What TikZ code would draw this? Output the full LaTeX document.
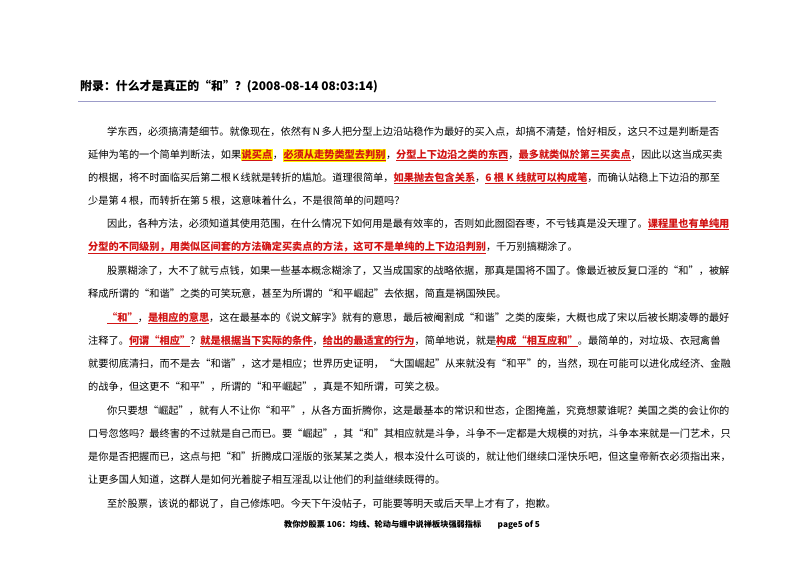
\documentclass[tikz,border=0pt]{standalone}
\usepackage{fontspec}
\setmainfont{Noto Sans CJK SC}
\usepackage{xcolor}
\XeTeXlinebreaklocale "zh"
\XeTeXlinebreakskip=0pt plus 3pt minus 0.6pt
\definecolor{hred}{RGB}{210,20,20}
\definecolor{hyel}{RGB}{255,240,0}
\newcommand{\hr}[1]{\textcolor{hred}{\textbf{\underline{#1}}}}
\newcommand{\hy}[1]{{\setlength{\fboxsep}{0.5pt}\colorbox{hyel}{\hr{#1}}}}
\newcommand{\fa}[1]{\hbox to 603pt{#1}}
\newcommand{\fb}[1]{\hbox to 622pt{#1}}
\tikzset{ln/.style={anchor=base west,inner sep=0,font=\fontsize{10.2}{12}\selectfont},
 ttl/.style={anchor=base west,inner sep=0,font=\fontsize{11.9}{14}\selectfont\bfseries},
 ft/.style={anchor=base,inner sep=0,font=\fontsize{8.2}{10}\selectfont\bfseries}}
\begin{document}
\begin{tikzpicture}[x=1pt,y=-1pt]
\useasboundingbox (0,0) rectangle (800,566);
\fill[white] (0,0) rectangle (800,566);
\node[ttl] (t) at (80,90) {附录：什么才是真正的“和”？(2008-08-14 08:03:14)};
\coordinate (r1) at (78,101); \coordinate (r2) at (716,101);
\draw[color=gray!70!blue!60,line width=0.8pt] (r1) -- (r2);
\node[ln] (a1) at (107,135) {\fa{学东西，必须搞清楚细节。就像现在，依然有 N 多人把分型上边沿站稳作为最好的买入点，却搞不清楚，恰好相反，这只不过是判断是否}};
\node[ln] (a2) at (88,158) {\fb{延伸为笔的一个简单判断法，如果\hy{说买点}，\hy{必须从走势类型去判别}，\hr{分型上下边沿之类的东西}，\hr{最多就类似於第三买卖点}，因此以这当成买卖}};
\node[ln] (a3) at (88,181) {\fb{的根据，将不时面临买后第二根 K 线就是转折的尴尬。道理很简单，\hr{如果抛去包含关系}，\hr{6 根 K 线就可以构成笔}，而确认站稳上下边沿的那至}};
\node[ln] (a4) at (88,204) {少是第 4 根，而转折在第 5 根，这意味着什么，不是很简单的问题吗？};
\node[ln] (b1) at (107,227) {\fa{因此，各种方法，必须知道其使用范围，在什么情况下如何用是最有效率的，否则如此囫囵吞枣，不亏钱真是没天理了。\hr{课程里也有单纯用}}};
\node[ln] (b2) at (88,250) {\hr{分型的不同级别，用类似区间套的方法确定买卖点的方法，这可不是单纯的上下边沿判别}，千万别搞糊涂了。};
\node[ln] (c1) at (107,274) {\fa{股票糊涂了，大不了就亏点钱，如果一些基本概念糊涂了，又当成国家的战略依据，那真是国将不国了。像最近被反复口淫的“和”，被解}};
\node[ln] (c2) at (88,297) {释成所谓的“和谐”之类的可笑玩意，甚至为所谓的“和平崛起”去依据，简直是祸国殃民。};
\node[ln] (d1) at (107,321) {\fa{\hr{“和”}，\hr{是相应的意思}，这在最基本的《说文解字》就有的意思，最后被阉割成“和谐”之类的废柴，大概也成了宋以后被长期凌辱的最好}};
\node[ln] (d2) at (88,344) {\fb{注释了。\hr{何谓“相应”}？\hr{就是根据当下实际的条件}，\hr{给出的最适宜的行为}，简单地说，就是\hr{构成“相互应和”}。最简单的，对垃圾、衣冠禽兽}};
\node[ln] (d3) at (88,367) {\fb{就要彻底清扫，而不是去“和谐”，这才是相应；世界历史证明，“大国崛起”从来就没有“和平”的，当然，现在可能可以进化成经济、金融}};
\node[ln] (d4) at (88,390) {的战争，但这更不“和平”，所谓的“和平崛起”，真是不知所谓，可笑之极。};
\node[ln] (e1) at (107,414) {\fa{你只要想“崛起”，就有人不让你“和平”，从各方面折腾你，这是最基本的常识和世态，企图掩盖，究竟想蒙谁呢？美国之类的会让你的}};
\node[ln] (e2) at (88,437) {\fb{口号忽悠吗？最终害的不过就是自己而已。要“崛起”，其“和”其相应就是斗争，斗争不一定都是大规模的对抗，斗争本来就是一门艺术，只}};
\node[ln] (e3) at (88,460) {\fb{是你是否把握而已，这点与把“和”折腾成口淫版的张某某之类人，根本没什么可谈的，就让他们继续口淫快乐吧，但这皇帝新衣必须指出来，}};
\node[ln] (e4) at (88,483) {让更多国人知道，这群人是如何光着腚子相互淫乱以让他们的利益继续既得的。};
\node[ln] (f1) at (107,507) {至於股票，该说的都说了，自己修炼吧。今天下午没帖子，可能要等明天或后天早上才有了，抱歉。};
\node[ft] (g) at (412,527) {教你炒股票 106：均线、轮动与缠中说禅板块强弱指标\hspace{2em}page5 of 5};
\end{tikzpicture}
\end{document}
